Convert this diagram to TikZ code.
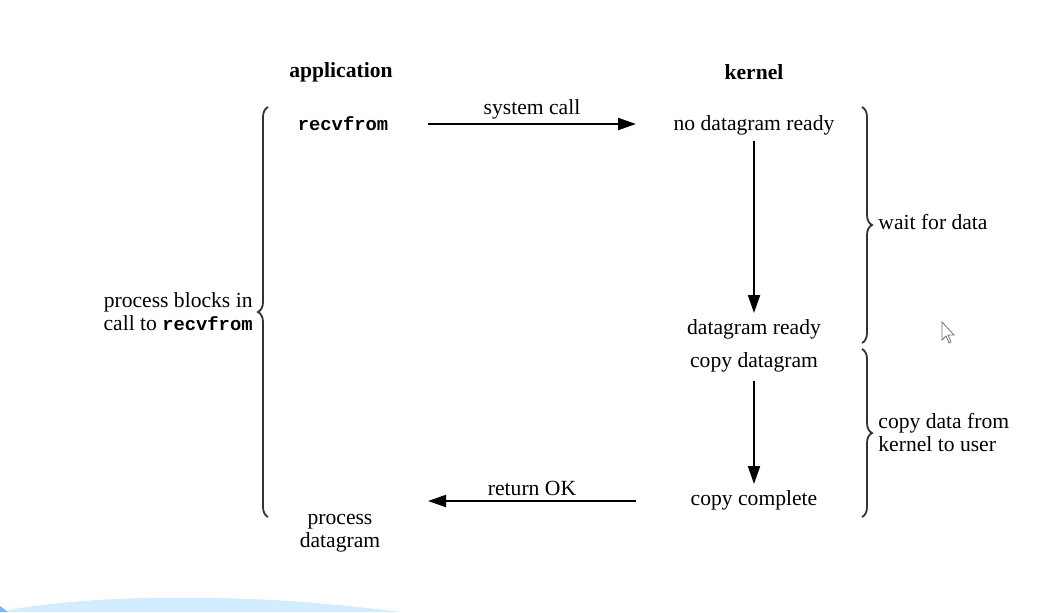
\documentclass[tikz,border=0pt]{standalone}
\usepackage{fontspec}
\setmainfont{Liberation Serif}
\setmonofont{Liberation Mono}
\usetikzlibrary{arrows.meta,decorations.pathreplacing}
\begin{document}
\begin{tikzpicture}[x=0.5pt,y=-0.5pt,
  txt/.style={inner sep=0pt,font=\fontsize{10.8}{11.5}\selectfont},
  hdr/.style={txt,font=\fontsize{10.8}{11.5}\selectfont\bfseries},
  code/.style={inner sep=0pt,font=\fontsize{9.4}{11.5}\selectfont\ttfamily\bfseries},
  flow/.style={line width=1pt,-{Triangle[length=9pt,width=6pt]}},
  brc/.style={draw=black!80,line width=0.9pt,decorate,decoration={brace,amplitude=5pt}}]
\useasboundingbox (0,0) rectangle (1052,612);
% bottom blue swoosh
\fill[blue!40!cyan!18] (0,612) .. controls (60,598) and (220,588) .. (400,612) -- cycle;
\fill[blue!60!cyan!50] (0,606) -- (8,612) -- (0,612) -- cycle;
% headers
\node[hdr] (app) at (341,72) {application};
\node[hdr] (ker) at (754,72) {kernel};
% texts
\node[code] (recv) at (343,124) {recvfrom};
\node[txt] (nodata) at (754,125) {no datagram ready};
\node[txt] (ready) at (754,329) {datagram ready};
\node[txt] (copy) at (754,362) {copy datagram};
\node[txt] (done) at (754,500) {copy complete};
\node[txt,align=center] (proc) at (340,533) {process\\datagram};
\node[txt,align=right,anchor=east] (blocks) at (253,312) {process blocks in\\call to {\fontsize{9.4}{11.5}\selectfont\ttfamily\bfseries recvfrom}};
\node[txt,anchor=west] (wait) at (878,222) {wait for data};
\node[txt,anchor=west,align=left] (cpy) at (878,432) {copy data from\\kernel to user};
% arrows
\coordinate (sc1) at (428,124);
\coordinate (sc2) at (636,124);
\draw[flow] (sc1) -- node[txt,above=2pt] (sclbl) {system call} (sc2);
\coordinate (ok1) at (636,501);
\coordinate (ok2) at (428,501);
\draw[flow] (ok1) -- node[txt,above=2pt] (oklbl) {return OK} (ok2);
\coordinate (d1) at (754,141);
\coordinate (d2) at (754,313);
\draw[flow] (d1) -- (d2);
\coordinate (d3) at (754,381);
\coordinate (d4) at (754,484);
\draw[flow] (d3) -- (d4);
% braces
\coordinate (lb1) at (268,517);
\coordinate (lb2) at (268,107);
\draw[brc] (lb1) -- (lb2);
\coordinate (rb1) at (862,107);
\coordinate (rb2) at (862,343);
\draw[brc] (rb1) -- (rb2);
\coordinate (rb3) at (862,349);
\coordinate (rb4) at (862,517);
\draw[brc] (rb3) -- (rb4);
% mouse cursor
\draw[black!55,line width=0.4pt,fill=white] (942,322) -- (942,340) -- (946,336) -- (949,343) -- (951,342) -- (948,335) -- (954,335) -- cycle;
\end{tikzpicture}
\end{document}
